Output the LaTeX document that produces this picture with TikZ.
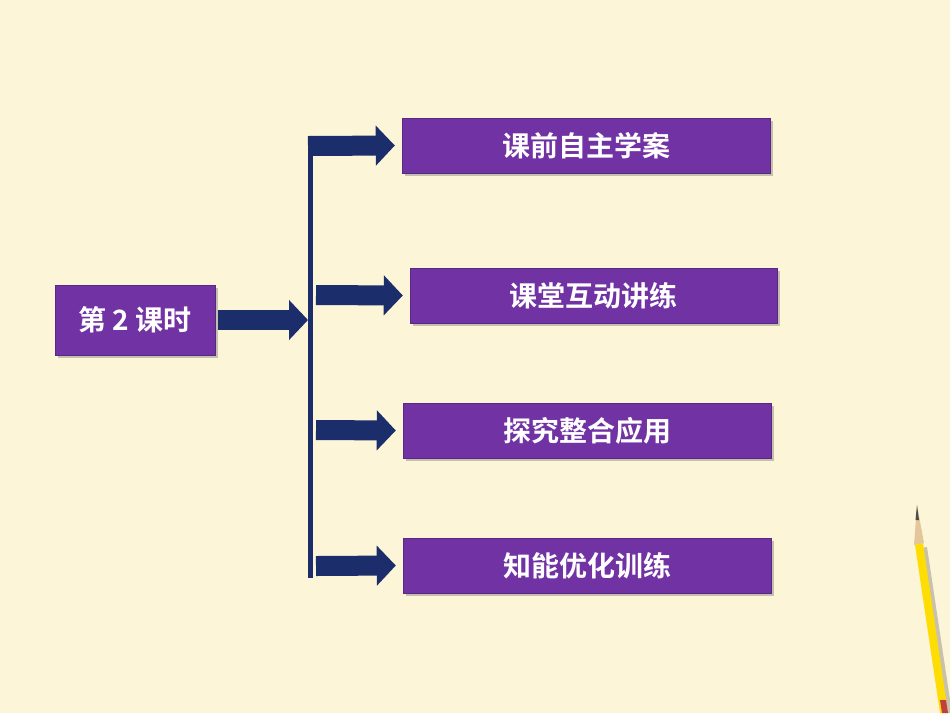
\documentclass[tikz,border=0pt]{standalone}
\usepackage{fontspec}
\newfontfamily\cjk{Noto Sans CJK SC Bold}
\usetikzlibrary{arrows.meta,shadows}
\definecolor{bg}{HTML}{FDF5D8}
\definecolor{pur}{HTML}{7132A3}
\definecolor{navy}{HTML}{1C2D6B}
\tikzset{
  box/.style={draw=pur!80!black,fill=pur,text=white,font=\cjk\fontsize{28}{28}\selectfont,minimum height=55pt,inner sep=0pt,drop shadow={shadow xshift=3pt,shadow yshift=-3pt,opacity=0.45}},
  fat/.style={draw=navy,line width=20pt,-{Triangle[length=19pt,width=39pt]},shorten >=0pt},
}
\begin{document}
\begin{tikzpicture}[x=1pt,y=-1pt]
\fill[bg] (0,0) rectangle (950,713);
\useasboundingbox (0,0) rectangle (950,713);
\node[box,minimum width=160pt,minimum height=70pt] (m) at (135,320) {第 2 课时};
\node[box,minimum width=368pt] (b1) at (586,145.5) {课前自主学案};
\node[box,minimum width=367pt] (b2) at (593.5,295.5) {课堂互动讲练};
\node[box,minimum width=368pt] (b3) at (587,430.5) {探究整合应用};
\node[box,minimum width=368pt] (b4) at (587,565.5) {知能优化训练};
\coordinate (t) at (310.5,137);
\coordinate (bt) at (310.5,578);
\draw[navy,line width=5pt] (t) -- (bt);
\coordinate (j) at (308,320);
\draw[fat] (m.east)++(3,0) -- (j);
\draw[fat] (308,146) -- ([xshift=-7pt]b1.west);
\draw[fat] (316,295) -- ([xshift=-7pt]b2.west);
\draw[fat] (316,430) -- ([xshift=-7pt]b3.west);
\draw[fat] (316,566) -- ([xshift=-7pt]b4.west);
% pencil
\fill[gray!60!black,opacity=0.3] (921,548) -- (946,713) -- (952,713) -- (927,547) -- cycle;
\fill[yellow!80!orange] (915,545) -- (940,713) -- (948,713) -- (923,543) -- cycle;
\fill[brown!40!bg] (914,545) -- (917,505) -- (924,543) -- cycle;
\fill[black!70] (915.5,520) -- (917,505) -- (919,520) -- cycle;
\fill[red!50!gray] (940,700) -- (942,713) -- (948,713) -- (946,700) -- cycle;
\end{tikzpicture}
\end{document}
